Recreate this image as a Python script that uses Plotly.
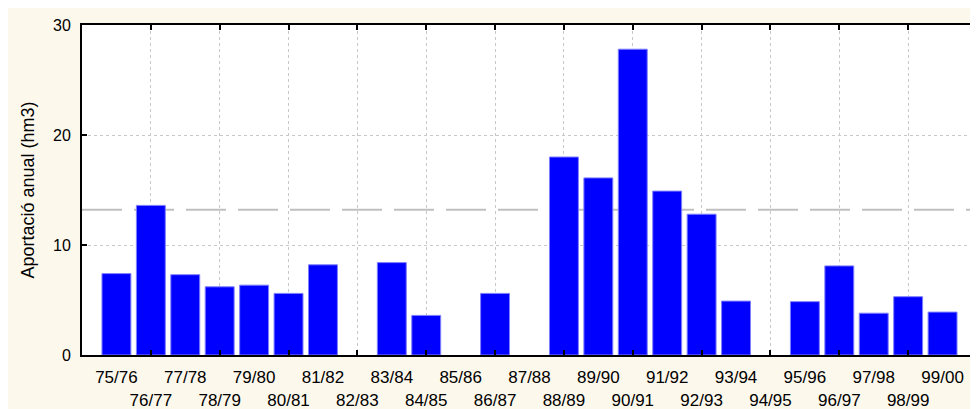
import plotly.graph_objects as go

categories = ["75/76", "76/77", "77/78", "78/79", "79/80", "80/81", "81/82", "82/83",
              "83/84", "84/85", "85/86", "86/87", "87/88", "88/89", "89/90", "90/91",
              "91/92", "92/93", "93/94", "94/95", "95/96", "96/97", "97/98", "98/99", "99/00"]
values = [7.4, 13.6, 7.3, 6.2, 6.35, 5.6, 8.2, None,
          8.4, 3.6, None, 5.6, None, 18.0, 16.1, 27.8,
          14.9, 12.8, 4.9, None, 4.85, 8.1, 3.8, 5.3, 3.9]
mean_value = 13.2
y_ticks = [0, 10, 20, 30]

# page body has an 8px margin; figure starts at (8, 8)
W, H = 970, 401
L, R, T, B = 74, 969, 17, 347

idx = list(range(len(categories)))
ticktext = [c if i % 2 == 0 else "<br>" + c for i, c in enumerate(categories)]
odd_idx = [i for i in idx if i % 2 == 1]

fig = go.Figure()
fig.add_trace(go.Bar(
    x=idx, y=values, marker=dict(color="#0000FF", line=dict(color="#7f7fff", width=1)),
    width=0.84, showlegend=False, hoverinfo="y"))
# invisible trace so that the top axis is drawn
fig.add_trace(go.Scatter(
    x=[idx[0]], y=[0], xaxis="x2", yaxis="y", mode="markers",
    marker=dict(opacity=0), showlegend=False, hoverinfo="skip"))

font = dict(family="Arial, Liberation Sans, sans-serif", size=16, color="black")

fig.update_layout(
    width=W, height=H, autosize=False,
    margin=dict(l=L, r=W - R, t=T, b=H - B, pad=0),
    paper_bgcolor="#FDF8EC", plot_bgcolor="white",
    font=font,
    shapes=[dict(type="line", xref="paper", yref="y", layer="below",
                 x0=0, x1=1, y0=mean_value, y1=mean_value,
                 line=dict(color="#c0c0c0", width=2, dash="40px,12px"))],
    xaxis=dict(range=[-1, len(categories)], tickmode="array", tickvals=idx, ticktext=ticktext,
               tickangle=0, automargin=False, ticklabelstandoff=6,
               ticks="", showgrid=False, zeroline=False, showline=True, linecolor="black",
               linewidth=2, tickfont=dict(size=17),
               minor=dict(tickmode="array", tickvals=odd_idx, ticks="inside", ticklen=5,
                          tickcolor="black", tickwidth=1.5, showgrid=True,
                          gridcolor="#c8c8c8", griddash="dot", gridwidth=1)),
    xaxis2=dict(range=[-1, len(categories)], overlaying="x", side="top", anchor="y",
                tickmode="array", tickvals=odd_idx, ticks="inside", ticklen=5,
                tickcolor="black", tickwidth=1.5, showticklabels=False, showgrid=False,
                zeroline=False, showline=True, linecolor="black", linewidth=2,
                automargin=False),
    yaxis=dict(range=[0, 30], tickmode="array", tickvals=y_ticks, ticks="inside", ticklen=5,
               tickcolor="black", tickwidth=1.5, showgrid=True, gridcolor="#c8c8c8",
               griddash="dot", gridwidth=1, zeroline=False, showline=True,
               linecolor="black", linewidth=2, mirror="ticks", tickfont=dict(size=16),
               ticklabelstandoff=6, automargin=False,
               title=dict(text="Aportació anual (hm3)", font=dict(size=18), standoff=14)),
)

fig.write_html("out.html")
